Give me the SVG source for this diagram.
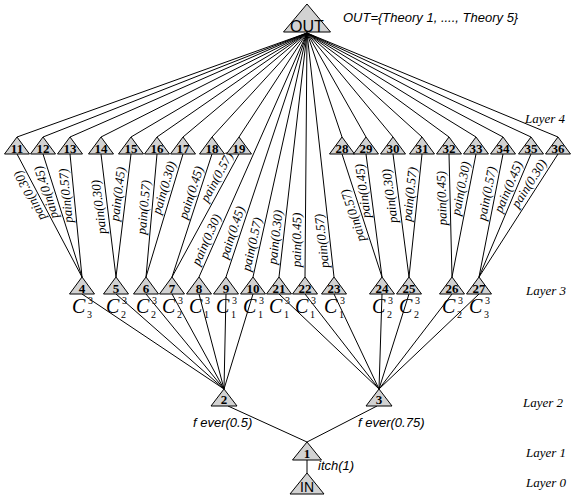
<svg xmlns="http://www.w3.org/2000/svg" xmlns:xlink="http://www.w3.org/1999/xlink" width="572" height="497" viewBox="0 0 572 497">
  <style>
    .tri { fill: #d2d2d2; stroke: #000; stroke-width: 1; }
    .num { font-family: "Liberation Serif", serif; font-weight: bold; font-size: 13px; text-anchor: middle; fill: #000; }
    .sans { font-family: "Liberation Sans", Arial, sans-serif; fill: #000; }
    .edge line { stroke: #000; stroke-width: 1; fill: none; }
    .lbl { font-family: "Liberation Serif", serif; font-style: italic; font-size: 13px; text-anchor: middle; fill: #000; }
    .layer { font-family: "Liberation Serif", serif; font-style: italic; font-size: 13px; fill: #000; }
    .cc { font-family: "Liberation Serif", serif; font-style: italic; font-size: 20px; fill: #000; }
    .cs { font-family: "Liberation Serif", serif; font-size: 10px; fill: #000; }
  </style>
  <defs>
    <polygon id="t" class="tri" points="0,0 12.5,17 -12.5,17"/>
  </defs>
  <rect width="572" height="497" fill="#fff"/>

  <!-- connectors -->
  <g id="connectors" class="edge">
    <!-- OUT to layer 4 -->
    <line x1="307" y1="33" x2="17" y2="137"/>
    <line x1="307" y1="33" x2="43" y2="137"/>
    <line x1="307" y1="33" x2="70" y2="137"/>
    <line x1="307" y1="33" x2="101" y2="137"/>
    <line x1="307" y1="33" x2="131" y2="137"/>
    <line x1="307" y1="33" x2="157" y2="137"/>
    <line x1="307" y1="33" x2="183" y2="137"/>
    <line x1="307" y1="33" x2="212" y2="137"/>
    <line x1="307" y1="33" x2="239" y2="137"/>
    <line x1="307" y1="33" x2="342" y2="137"/>
    <line x1="307" y1="33" x2="366" y2="137"/>
    <line x1="307" y1="33" x2="393" y2="137"/>
    <line x1="307" y1="33" x2="422" y2="137"/>
    <line x1="307" y1="33" x2="449" y2="137"/>
    <line x1="307" y1="33" x2="476" y2="137"/>
    <line x1="307" y1="33" x2="503" y2="137"/>
    <line x1="307" y1="33" x2="531" y2="137"/>
    <line x1="307" y1="33" x2="558" y2="137"/>
    <!-- OUT straight to single-symptom nodes -->
    <line x1="307" y1="33" x2="199" y2="277"/>
    <line x1="307" y1="33" x2="226" y2="277"/>
    <line x1="307" y1="33" x2="253" y2="277"/>
    <line x1="307" y1="33" x2="279" y2="277"/>
    <line x1="307" y1="33" x2="305" y2="277"/>
    <line x1="307" y1="33" x2="334" y2="277"/>
    <!-- layer 4 to layer 3 -->
    <line x1="17" y1="154" x2="82" y2="277"/>
    <line x1="43" y1="154" x2="82" y2="277"/>
    <line x1="70" y1="154" x2="82" y2="277"/>
    <line x1="101" y1="154" x2="116" y2="277"/>
    <line x1="131" y1="154" x2="116" y2="277"/>
    <line x1="157" y1="154" x2="146" y2="277"/>
    <line x1="183" y1="154" x2="146" y2="277"/>
    <line x1="212" y1="154" x2="172" y2="277"/>
    <line x1="239" y1="154" x2="172" y2="277"/>
    <line x1="342" y1="154" x2="382" y2="277"/>
    <line x1="366" y1="154" x2="382" y2="277"/>
    <line x1="393" y1="154" x2="409" y2="277"/>
    <line x1="422" y1="154" x2="409" y2="277"/>
    <line x1="449" y1="154" x2="452" y2="277"/>
    <line x1="476" y1="154" x2="452" y2="277"/>
    <line x1="503" y1="154" x2="479" y2="277"/>
    <line x1="531" y1="154" x2="479" y2="277"/>
    <line x1="558" y1="154" x2="479" y2="277"/>
    <!-- layer 3 to layer 2 -->
    <line x1="82" y1="294" x2="224" y2="389"/>
    <line x1="116" y1="294" x2="224" y2="389"/>
    <line x1="146" y1="294" x2="224" y2="389"/>
    <line x1="172" y1="294" x2="224" y2="389"/>
    <line x1="199" y1="294" x2="224" y2="389"/>
    <line x1="226" y1="294" x2="224" y2="389"/>
    <line x1="253" y1="294" x2="224" y2="389"/>
    <line x1="279" y1="294" x2="379" y2="389"/>
    <line x1="305" y1="294" x2="379" y2="389"/>
    <line x1="334" y1="294" x2="379" y2="389"/>
    <line x1="382" y1="294" x2="379" y2="389"/>
    <line x1="409" y1="294" x2="379" y2="389"/>
    <line x1="452" y1="294" x2="379" y2="389"/>
    <line x1="479" y1="294" x2="379" y2="389"/>
    <!-- layer 2 to layer 1, layer 1 to IN -->
    <line x1="228" y1="406" x2="307" y2="442"/>
    <line x1="377" y1="406" x2="307" y2="442"/>
    <line x1="307" y1="460" x2="307" y2="473"/>
  </g>

  <!-- edge labels -->
  <g id="edge-labels">
    <text class="lbl" transform="translate(37,192) rotate(-117.9)" y="-4">pain(0.30)</text>
    <text class="lbl" transform="translate(54,190) rotate(-107.6)" y="-4">pain(0.45)</text>
    <text class="lbl" transform="translate(74,195) rotate(-95.6)" y="-4">pain(0.57)</text>
    <text class="lbl" transform="translate(107,206) rotate(-97)" y="-4">pain(0.30)</text>
    <text class="lbl" transform="translate(126,195) rotate(-83)" y="-4">pain(0.45)</text>
    <text class="lbl" transform="translate(152,208) rotate(-84.9)" y="-4">pain(0.57)</text>
    <text class="lbl" transform="translate(172,190) rotate(-73.3)" y="-4">pain(0.30)</text>
    <text class="lbl" transform="translate(199,195) rotate(-72)" y="-4">pain(0.45)</text>
    <text class="lbl" transform="translate(224,181) rotate(-61.4)" y="-4">pain(0.57)</text>
    <text class="lbl" transform="translate(214,243) rotate(-66.1)" y="-4">pain(0.30)</text>
    <text class="lbl" transform="translate(240,235) rotate(-71.6)" y="-4">pain(0.45)</text>
    <text class="lbl" transform="translate(260,246) rotate(-77.5)" y="-4">pain(0.57)</text>
    <text class="lbl" transform="translate(283.5,238) rotate(-83.5)" y="-4">pain(0.30)</text>
    <text class="lbl" transform="translate(305,240) rotate(-89.5)" y="-4">pain(0.45)</text>
    <text class="lbl" transform="translate(330,240) rotate(-96.3)" y="-4">pain(0.57)</text>
    <text class="lbl" transform="translate(361,213) rotate(-108)" y="-4">pain(0.57)</text>
    <text class="lbl" transform="translate(371,190) rotate(-97.4)" y="-4">pain(0.45)</text>
    <text class="lbl" transform="translate(398,195) rotate(-97.4)" y="-4">pain(0.30)</text>
    <text class="lbl" transform="translate(418,195) rotate(-84)" y="-4">pain(0.57)</text>
    <text class="lbl" transform="translate(450,198) rotate(-91.4)" y="-4">pain(0.45)</text>
    <text class="lbl" transform="translate(469,190) rotate(-79)" y="-4">pain(0.30)</text>
    <text class="lbl" transform="translate(495,195) rotate(-79)" y="-4">pain(0.57)</text>
    <text class="lbl" transform="translate(516,190) rotate(-67.1)" y="-4">pain(0.45)</text>
    <text class="lbl" transform="translate(536,188) rotate(-57.3)" y="-4">pain(0.30)</text>
    <text class="sans" x="193" y="427" font-size="13" font-style="italic">f ever(0.5)</text>
    <text class="sans" x="358" y="427" font-size="13" font-style="italic">f ever(0.75)</text>
    <text class="sans" x="318" y="470" font-size="13" font-style="italic">itch(1)</text>
  </g>

  <!-- output node -->
  <g id="nOUT">
    <polygon class="tri" points="307,4 330.5,32 283.5,32"/>
    <text class="sans" x="307" y="32" font-size="16" text-anchor="middle">OUT</text>
  </g>
  <text class="sans" x="343" y="22" font-size="13" font-style="italic">OUT={Theory 1, ...., Theory 5}</text>

  <!-- layer 4 -->
  <g id="n11" transform="translate(17,137)"><use xlink:href="#t"/><text class="num" y="16">11</text></g>
  <g id="n12" transform="translate(43,137)"><use xlink:href="#t"/><text class="num" y="16">12</text></g>
  <g id="n13" transform="translate(70,137)"><use xlink:href="#t"/><text class="num" y="16">13</text></g>
  <g id="n14" transform="translate(101,137)"><use xlink:href="#t"/><text class="num" y="16">14</text></g>
  <g id="n15" transform="translate(131,137)"><use xlink:href="#t"/><text class="num" y="16">15</text></g>
  <g id="n16" transform="translate(157,137)"><use xlink:href="#t"/><text class="num" y="16">16</text></g>
  <g id="n17" transform="translate(183,137)"><use xlink:href="#t"/><text class="num" y="16">17</text></g>
  <g id="n18" transform="translate(212,137)"><use xlink:href="#t"/><text class="num" y="16">18</text></g>
  <g id="n19" transform="translate(239,137)"><use xlink:href="#t"/><text class="num" y="16">19</text></g>
  <g id="n28" transform="translate(342,137)"><use xlink:href="#t"/><text class="num" y="16">28</text></g>
  <g id="n29" transform="translate(366,137)"><use xlink:href="#t"/><text class="num" y="16">29</text></g>
  <g id="n30" transform="translate(393,137)"><use xlink:href="#t"/><text class="num" y="16">30</text></g>
  <g id="n31" transform="translate(422,137)"><use xlink:href="#t"/><text class="num" y="16">31</text></g>
  <g id="n32" transform="translate(449,137)"><use xlink:href="#t"/><text class="num" y="16">32</text></g>
  <g id="n33" transform="translate(476,137)"><use xlink:href="#t"/><text class="num" y="16">33</text></g>
  <g id="n34" transform="translate(503,137)"><use xlink:href="#t"/><text class="num" y="16">34</text></g>
  <g id="n35" transform="translate(531,137)"><use xlink:href="#t"/><text class="num" y="16">35</text></g>
  <g id="n36" transform="translate(558,137)"><use xlink:href="#t"/><text class="num" y="16">36</text></g>

  <!-- layer 3 with combination marks -->
  <g id="n4" transform="translate(82,277)"><use xlink:href="#t"/><text class="num" y="16">4</text>
    <text class="cc" x="-10" y="36">C</text><text class="cs" x="6" y="27">3</text><text class="cs" x="5" y="41">3</text></g>
  <g id="n5" transform="translate(116,277)"><use xlink:href="#t"/><text class="num" y="16">5</text>
    <text class="cc" x="-10" y="36">C</text><text class="cs" x="6" y="27">3</text><text class="cs" x="5" y="41">2</text></g>
  <g id="n6" transform="translate(146,277)"><use xlink:href="#t"/><text class="num" y="16">6</text>
    <text class="cc" x="-10" y="36">C</text><text class="cs" x="6" y="27">3</text><text class="cs" x="5" y="41">2</text></g>
  <g id="n7" transform="translate(172,277)"><use xlink:href="#t"/><text class="num" y="16">7</text>
    <text class="cc" x="-10" y="36">C</text><text class="cs" x="6" y="27">3</text><text class="cs" x="5" y="41">2</text></g>
  <g id="n8" transform="translate(199,277)"><use xlink:href="#t"/><text class="num" y="16">8</text>
    <text class="cc" x="-10" y="36">C</text><text class="cs" x="6" y="27">3</text><text class="cs" x="5" y="41">1</text></g>
  <g id="n9" transform="translate(226,277)"><use xlink:href="#t"/><text class="num" y="16">9</text>
    <text class="cc" x="-10" y="36">C</text><text class="cs" x="6" y="27">3</text><text class="cs" x="5" y="41">1</text></g>
  <g id="n10" transform="translate(253,277)"><use xlink:href="#t"/><text class="num" y="16">10</text>
    <text class="cc" x="-10" y="36">C</text><text class="cs" x="6" y="27">3</text><text class="cs" x="5" y="41">1</text></g>
  <g id="n21" transform="translate(279,277)"><use xlink:href="#t"/><text class="num" y="16">21</text>
    <text class="cc" x="-10" y="36">C</text><text class="cs" x="6" y="27">3</text><text class="cs" x="5" y="41">1</text></g>
  <g id="n22" transform="translate(305,277)"><use xlink:href="#t"/><text class="num" y="16">22</text>
    <text class="cc" x="-10" y="36">C</text><text class="cs" x="6" y="27">3</text><text class="cs" x="5" y="41">1</text></g>
  <g id="n23" transform="translate(334,277)"><use xlink:href="#t"/><text class="num" y="16">23</text>
    <text class="cc" x="-10" y="36">C</text><text class="cs" x="6" y="27">3</text><text class="cs" x="5" y="41">1</text></g>
  <g id="n24" transform="translate(382,277)"><use xlink:href="#t"/><text class="num" y="16">24</text>
    <text class="cc" x="-10" y="36">C</text><text class="cs" x="6" y="27">3</text><text class="cs" x="5" y="41">2</text></g>
  <g id="n25" transform="translate(409,277)"><use xlink:href="#t"/><text class="num" y="16">25</text>
    <text class="cc" x="-10" y="36">C</text><text class="cs" x="6" y="27">3</text><text class="cs" x="5" y="41">2</text></g>
  <g id="n26" transform="translate(452,277)"><use xlink:href="#t"/><text class="num" y="16">26</text>
    <text class="cc" x="-10" y="36">C</text><text class="cs" x="6" y="27">3</text><text class="cs" x="5" y="41">2</text></g>
  <g id="n27" transform="translate(479,277)"><use xlink:href="#t"/><text class="num" y="16">27</text>
    <text class="cc" x="-10" y="36">C</text><text class="cs" x="6" y="27">3</text><text class="cs" x="5" y="41">3</text></g>

  <!-- layer 2 -->
  <g id="n2"><polygon class="tri" points="224,389 237,406 211,406"/><text class="num" x="224" y="404">2</text></g>
  <g id="n3"><polygon class="tri" points="379,389 392,406 366,406"/><text class="num" x="379" y="404">3</text></g>

  <!-- layer 1 and input -->
  <g id="n1"><polygon class="tri" points="307,442 321.5,460 292.5,460"/><text class="num" x="307" y="458">1</text></g>
  <g id="nIN"><polygon class="tri" points="307,473 324,494 290,494"/><text class="sans" x="307" y="492" font-size="14" text-anchor="middle">IN</text></g>

  <!-- layer captions -->
  <g id="layers">
    <text class="layer" x="525" y="123">Layer 4</text>
    <text class="layer" x="526" y="295">Layer 3</text>
    <text class="layer" x="523" y="407">Layer 2</text>
    <text class="layer" x="526" y="457">Layer 1</text>
    <text class="layer" x="526" y="487">Layer 0</text>
  </g>
</svg>
